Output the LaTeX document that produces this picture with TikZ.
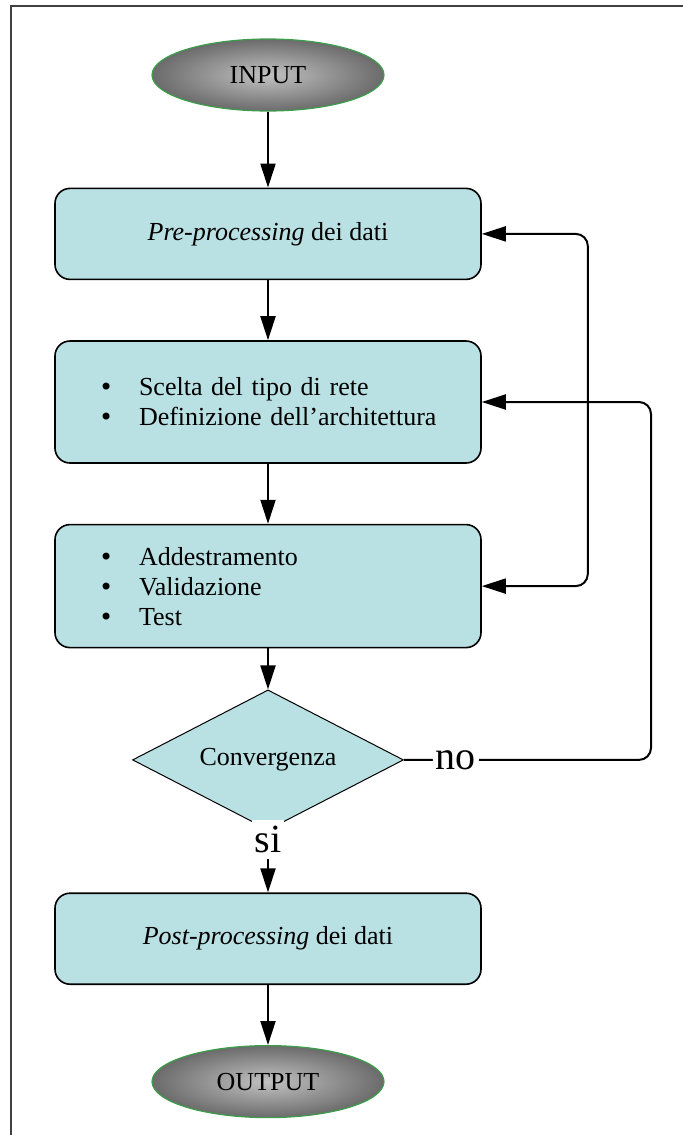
\documentclass[tikz,border=0pt]{standalone}
\usepackage{fontspec}
\setmainfont{Liberation Serif}
\newfontfamily\dotfont{DejaVu Sans}
\usetikzlibrary{arrows.meta, calc, positioning, shapes.geometric}
\definecolor{boxfill}{HTML}{B9E0E3}
\definecolor{rimgreen}{HTML}{3C9E4A}
\newcommand{\bulletline}[1]{\makebox[20pt][l]{{\dotfont\fontsize{12}{15}\selectfont •}}#1}

\begin{document}
\begin{tikzpicture}

  \tikzstyle{terminal} = [%
  draw=rimgreen,
  ellipse,
  font=\fontsize{13}{15}\selectfont,
  inner color=black!24,
  line width=0.6pt,
  minimum height=36pt,
  minimum width=116pt,
  outer color=black!58,
  ];

  \tikzstyle{phase} = [%
  align=center,
  draw=black,
  fill=boxfill,
  font=\fontsize{13}{15}\selectfont,
  line width=0.8pt,
  minimum height=45.5pt,
  minimum width=213pt,
  rectangle,
  rounded corners=7.5pt,
  ];

  \tikzstyle{phaselist} = [%
  phase,
  align=left,
  inner xsep=22pt,
  minimum height=61pt,
  text width=169pt,
  ];

  \tikzstyle{test} = [%
  aspect=2,
  diamond,
  draw=black,
  fill=boxfill,
  font=\fontsize{13}{15}\selectfont,
  inner sep=0pt,
  line width=0.5pt,
  minimum height=70pt,
  minimum width=135.5pt,
  ];

  \tikzstyle{flow} = [%
  -{Triangle[length=12pt,width=7.5pt]},
  line width=1pt,
  ];

  \tikzstyle{answer} = [%
  fill=white,
  font=\fontsize{20}{22}\selectfont,
  inner xsep=1.5pt,
  inner ysep=3pt,
  ];

  \useasboundingbox (0,0) rectangle (341.5pt,-567.5pt);

  % page frame (left and top edges)
  \draw[black!75, line width=1.2pt] (5.5pt,-567.5pt) |- (341.5pt,-3pt);

  % main chain
  \node[terminal] (input) at (134pt,-37.5pt) {INPUT};
  \node[phase] (preproc) [below=38pt of input] {\textit{Pre-processing} dei dati};
  \node[phaselist] (design) [below=30pt of preproc]
    {\bulletline{Scelta del tipo di rete}\\
     \bulletline{Definizione dell’architettura}};
  \node[phaselist, minimum height=61.5pt] (train) [below=30pt of design]
    {\bulletline{Addestramento}\\
     \bulletline{Validazione}\\
     \bulletline{Test}};
  \node[test] (conv) [below=20.5pt of train] {Convergenza};
  \node[phase] (postproc) [below=31pt of conv] {\textit{Post-processing} dei dati};
  \node[terminal] (output) [below=30pt of postproc] {OUTPUT};

  \draw[flow] (input) -- (preproc);
  \draw[flow] (preproc) -- (design);
  \draw[flow] (design) -- (train);
  \draw[flow] (train) -- (conv);
  \draw[flow] (conv) -- node[answer, pos=0.14] (yes) {si} (postproc);
  \draw[flow] (postproc) -- (output);

  % feedback loops
  \draw[flow, {Triangle[length=12pt,width=7.5pt]}-{Triangle[length=12pt,width=7.5pt]},
    rounded corners=6pt]
    (train.east) -- ++(53pt,0) |- (preproc.east);
  \draw[flow, rounded corners=6pt]
    (conv.east) -- node[answer, pos=0.21, inner ysep=0pt] (no) {no} ++(123.5pt,0)
    |- (design.east);

\end{tikzpicture}
\end{document}
